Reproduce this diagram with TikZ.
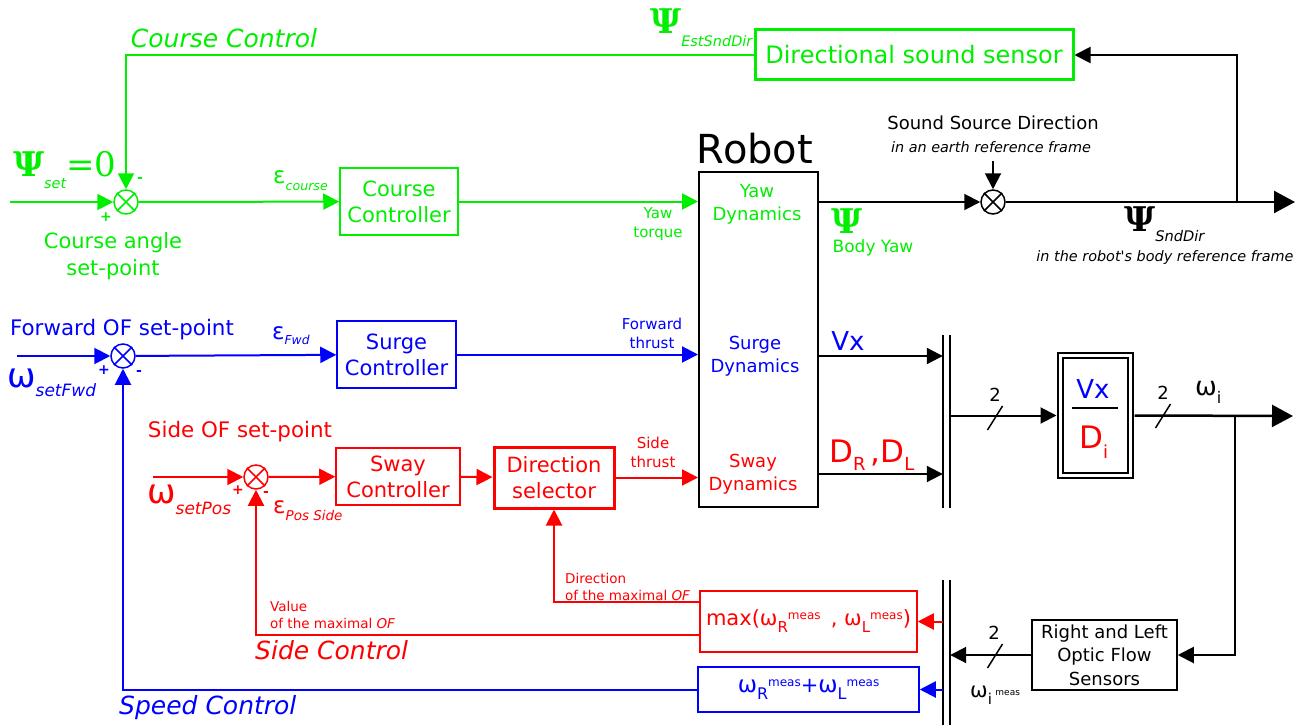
\documentclass[tikz,border=0pt]{standalone}
\usepackage{fontspec}
\setmainfont{DejaVu Sans}
\newfontfamily\psifont{DejaVu Serif}
\newfontfamily\rawsans{DejaVu Sans}
\usetikzlibrary{arrows.meta,calc}
\definecolor{cgreen}{RGB}{0,238,0}
\definecolor{cblue}{RGB}{0,0,255}
\definecolor{cred}{RGB}{255,0,0}
\newcommand\fs[2]{\fontsize{#1}{#2}\selectfont}
\newcommand\lowsub[3]{\raisebox{-#2pt}{\fs{#1}{#1}#3}}
\newcommand\meas[1]{\raisebox{#1pt}{\fs{12}{12}meas}}
\newcommand\bigpsi{{\psifont\bfseries\fs{34}{34}Ψ}}
\tikzset{
  blk/.style={draw, line width=1.5pt, inner sep=0pt, align=center, font=\fs{21}{26}},
  sumnode/.style={circle, draw, line width=1.5pt, minimum size=24pt, inner sep=0pt},
  sig/.style={line width=2pt, -{Triangle[length=16pt,width=16pt]}},
  bigsig/.style={line width=2.5pt, -{Triangle[length=21pt,width=22pt]}},
  lbl/.style={inner sep=0pt, align=center},
  pm/.style={lbl, font=\fs{14}{14}\bfseries},
  busbar/.style={inner sep=0pt, minimum width=7pt},
}
\begin{document}
\begin{tikzpicture}[x=1pt,y=-1pt]
\useasboundingbox (0,0) rectangle (1307,725);
% blocks
\node[sumnode, draw=cgreen] (sumC) at (126,202) {};
\node[blk, draw=cgreen, text=cgreen, minimum width=118pt, minimum height=67pt] (ctrlC) at (399,201.5) {Course\\Controller};
\node[blk, draw=cgreen, text=cgreen, line width=3pt, minimum width=318pt, minimum height=50pt, font=\fs{24}{28}] (sensor) at (914,55) {Directional sound sensor};
\node[blk, draw=black, line width=2pt, minimum width=119pt, minimum height=335pt] (robot) at (758.5,339.5) {};
\node[sumnode, draw=black] (sumS) at (993,202) {};
\node[sumnode, draw=cblue] (sumF) at (123,356) {};
\node[blk, draw=cblue, text=cblue, minimum width=119pt, minimum height=67pt] (ctrlF) at (396.5,354.5) {Surge\\Controller};
\node[sumnode, draw=cred] (sumP) at (256,477) {};
\node[blk, draw=cred, text=cred, minimum width=124pt, minimum height=57pt] (ctrlP) at (398,476.5) {Sway\\Controller};
\node[blk, draw=cred, text=cred, line width=3pt, minimum width=120pt, minimum height=61pt] (dirsel) at (554,477.5) {Direction\\selector};
\node[busbar, minimum height=173pt] (bus) at (946.5,421.5) {};
\node[busbar, minimum height=145pt] (bus2) at (946.5,652.5) {};
\node[draw, double, line width=2pt, double distance=3.5pt, minimum width=70pt, minimum height=120pt, outer sep=4pt] (ratio) at (1095.5,415.5) {};
\node[blk, font=\fs{18}{23.5}, minimum width=145pt, minimum height=70pt] (ofs) at (1104.5,655) {Right and Left\\Optic Flow\\Sensors};
\node[blk, draw=cred, text=cred, minimum width=217pt, minimum height=61pt] (maxbox) at (808.5,621.5) {max(ω\lowsub{15}{7}{R}\meas{6}\ \,, ω\lowsub{15}{7}{L}\meas{6})};
\node[blk, draw=cblue, text=cblue, minimum width=221pt, minimum height=45pt] (addbox) at (808.5,689.5) {{\fs{23}{23}ω}\lowsub{16}{7}{R}\meas{6}+{\fs{23}{23}ω}\lowsub{16}{7}{L}\meas{6}};
\foreach \s/\c in {sumC/cgreen, sumS/black, sumF/cblue, sumP/cred}
  \draw[\c, line width=1.5pt] (\s.45) -- (\s.225) (\s.135) -- (\s.315);
\draw[line width=2.5pt] (bus.north west) -- (bus.south west) (bus.north east) -- (bus.south east);
\draw[line width=2.5pt] (bus2.north west) -- (bus2.south west) (bus2.north east) -- (bus2.south east);
\draw[line width=1.5pt] (1072,408) -- (1118,408);
% course control loop
\coordinate (inC) at (10,202);
\coordinate (ssd) at (993,161);
\coordinate (outS) at (1295,202);
\coordinate (brS) at (1237,202);
\draw[sig, cgreen] (inC) -- (sumC);
\draw[sig, cgreen] (sumC) -- (ctrlC);
\draw[sig, cgreen] (ctrlC) -- (ctrlC -| robot.west);
\draw[sig] (robot.east |- sumS) -- (sumS);
\draw[sig] (ssd) -- (sumS);
\draw[bigsig] (sumS) -- (outS);
\draw[sig] (brS) |- (sensor.east);
\draw[sig, cgreen] (sensor.west) -| (sumC.north);
% speed and side loops
\coordinate (inF) at (17,356);
\coordinate (inP) at (153,477);
\coordinate (vxo) at (robot.east |- sumF);
\coordinate (dro) at (818,474);
\draw[sig, cblue] (inF) -- (sumF);
\draw[sig, cblue] (sumF) -- (ctrlF);
\draw[sig, cblue] (ctrlF) -- (ctrlF -| robot.west);
\draw[sig, cred] (inP) -- (sumP);
\draw[sig, cred] (sumP) -- (ctrlP);
\draw[sig, cred] (ctrlP) -- (dirsel);
\draw[sig, cred] (dirsel) -- (dirsel -| robot.west);
\draw[sig] (vxo) -- (vxo -| bus.west);
\draw[sig] (dro) -- (dro -| bus.west);
\draw[sig] (bus.east |- ratio) -- (ratio.west);
\coordinate (outW) at (1293,416);
\coordinate (brW) at (1235,416);
\draw[bigsig] (ratio.east) -- (outW);
\draw[sig] (brW) |- (ofs.east);
\draw[sig] (ofs.west) -- (ofs.west -| bus2.east);
\draw[sig, cred] (bus2.west |- maxbox) -- (maxbox.east);
\draw[sig, cblue] (bus2.west |- addbox) -- (addbox.east);
\draw[sig, cred] ($(maxbox.north west)+(0,12)$) -| (dirsel.south);
\draw[sig, cred] ($(maxbox.south west)+(0,-18)$) -| (sumP.south);
\draw[sig, cblue] (addbox.west) -| (sumF.south);
\foreach \x/\y in {995/418, 1163/416, 995/656}
  \draw[line width=1.5pt] ({\x-7.5},{\y+12}) -- ({\x+7.5},{\y-12});
% labels
\node[lbl, text=cgreen, font=\fs{25}{30}\itshape] (cclab) at (224,38) {Course Control};
\node[lbl, text=cgreen, anchor=base west] (psiset) at (13,176) {\bigpsi\lowsub{14.4}{12}{\itshape set}{\psifont\fs{34}{34}=0}};
\node[pm, text=cgreen] (pC) at (106,217) {+};
\node[pm, text=cgreen] (mC) at (140,180) {-};
\node[lbl, text=cgreen, anchor=base west] (ecourse) at (273,183) {\fs{23}{23}ε\lowsub{12.6}{7}{\itshape course}};
\node[lbl, text=cgreen, font=\fs{21}{27}] (csp) at (113,256) {Course angle\\set-point};
\node[lbl, text=cgreen, font=\fs{15}{19}] (ytq) at (658,224) {Yaw\\torque};
\node[lbl, text=cgreen, anchor=base west] (psiest) at (650,34) {\bigpsi\lowsub{14.5}{13}{\itshape EstSndDir}};
\node[lbl, font=\fs{40}{40}, anchor=base] (robotlab) at (755,163) {Robot};
\node[lbl, text=cgreen, font=\fs{18}{23}] (yawdyn) at (757,204) {Yaw\\Dynamics};
\node[lbl, text=cblue, font=\fs{18}{23}] (surgedyn) at (755,356) {Surge\\Dynamics};
\node[lbl, text=cred, font=\fs{18}{23}] (swaydyn) at (753,474) {Sway\\Dynamics};
\node[lbl, text=cgreen, anchor=base] (psibody) at (847,233) {\bigpsi};
\node[lbl, text=cgreen, font=\fs{17}{17}] (bodyyaw) at (873,248) {Body Yaw};
\node[lbl, font=\fs{18}{18}] (ssdlab) at (993,123) {Sound Source Direction};
\node[lbl, font=\fs{14.4}{14.4}\itshape] (earth) at (991,147) {in an earth reference frame};
\node[lbl, anchor=base west] (psisnd) at (1124,231) {\bigpsi\lowsub{14.6}{10}{\itshape SndDir}};
\node[lbl, font=\rawsans\fs{14.4}{14.4}\itshape] (bodyframe) at (1165,258) {in the robot's body reference frame};
\node[lbl, text=cblue, font=\fs{21.4}{21.4}] (fwdsp) at (122,330) {Forward OF set-point};
\node[lbl, text=cblue, anchor=base west] (wfwd) at (7,387) {\fs{34}{34}ω\lowsub{17}{9}{\itshape setFwd}};
\node[pm, text=cblue] (pF) at (104,370) {+};
\node[pm, text=cblue] (mF) at (139,373) {-};
\node[lbl, text=cblue, anchor=base west] (efwd) at (272,339) {\fs{23}{23}ε\lowsub{12.3}{5}{\itshape Fwd}};
\node[lbl, text=cblue, font=\fs{15}{19}] (fthr) at (652,333) {Forward\\thrust};
\node[lbl, text=cblue, font=\fs{26}{26}] (vxlab) at (848,341) {Vx};
\node[lbl, text=cred, font=\fs{21.4}{21.4}] (sidesp) at (240,432) {Side OF set-point};
\node[lbl, text=cred, anchor=base west] (wpos) at (147,503) {\fs{34}{34}ω\lowsub{17}{11}{\itshape setPos}};
\node[pm, text=cred] (pP) at (238,490) {+};
\node[pm, text=cred] (mP) at (266,494) {-};
\node[lbl, text=cred, anchor=base west] (epos) at (273,513) {\fs{23}{23}ε\lowsub{13.5}{7}{\itshape Pos Side}};
\node[lbl, text=cred, font=\fs{15}{19}] (sthr) at (653,452.5) {Side\\thrust};
\node[lbl, text=cred, anchor=base west] (drdl) at (829,462) {\fs{31}{31}D\lowsub{18}{8}{R}\,,D\lowsub{18}{8}{L}};
\node[lbl, text=cblue, font=\fs{26}{26}] (rvx) at (1093,389) {Vx};
\node[lbl, text=cred, anchor=base west] (rdi) at (1079,448) {\fs{31}{31}D\lowsub{18}{10}{i}};
\node[lbl, font=\fs{18}{18}] (n2a) at (995,395) {2};
\node[lbl, font=\fs{18}{18}] (n2b) at (1163,393) {2};
\node[lbl, font=\fs{18}{18}] (n2c) at (994,633) {2};
\node[lbl, anchor=base west] (wi) at (1195,395) {\fs{26}{26}ω\lowsub{16}{8}{i}};
\node[lbl, anchor=base west] (wimeas) at (970,697) {\fs{21}{21}ω\lowsub{15}{7}{i}\,\raisebox{2pt}{\fs{9}{9}meas}};
\node[lbl, text=cred, font=\fs{13.5}{17}, align=left, anchor=west] (dirlab) at (565,586.5) {Direction\\of the maximal \textit{OF}};
\node[lbl, text=cred, font=\fs{13.5}{17}, align=left, anchor=west] (vallab) at (270,615) {Value\\of the maximal \textit{OF}};
\node[lbl, text=cred, font=\fs{25}{30}\itshape, anchor=west] (sclab) at (255,650) {Side Control};
\node[lbl, text=cblue, font=\fs{25}{30}\itshape, anchor=west] (spclab) at (119,708) {Speed Control};
\end{tikzpicture}
\end{document}
